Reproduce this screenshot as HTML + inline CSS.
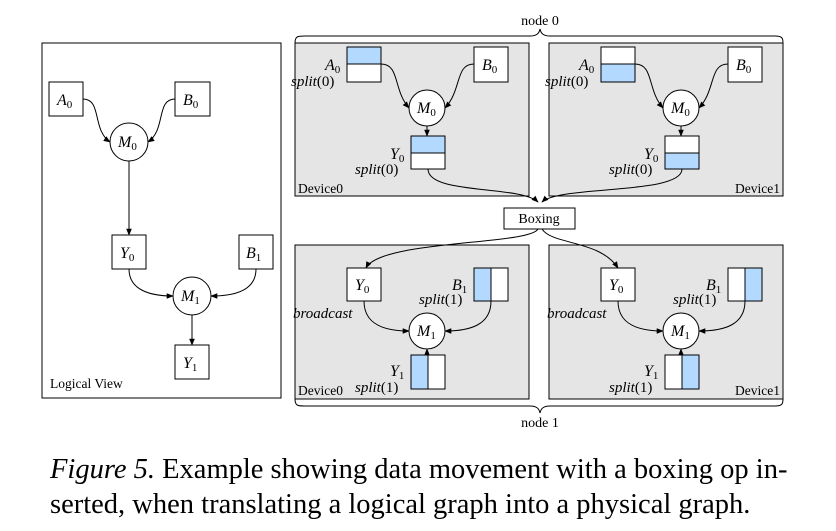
<!DOCTYPE html>
<html><head><meta charset="utf-8"><style>
html,body{margin:0;padding:0;background:#fff;width:836px;height:531px;overflow:hidden}
svg text{font-family:"Liberation Serif",serif}
.cap{position:absolute;left:50px;top:452px;font-family:"Liberation Serif",serif;font-size:28.5px;line-height:35px;color:#000;width:800px;white-space:nowrap}
</style></head><body>
<svg width="836" height="531" viewBox="0 0 836 531" xmlns="http://www.w3.org/2000/svg" style="position:absolute;left:0;top:0">
<defs>
<marker id="ar" viewBox="0 0 10 10" refX="9" refY="5" markerWidth="7" markerHeight="7" orient="auto" markerUnits="userSpaceOnUse"><path d="M0,1 L10,5 L0,9 z" fill="#000"/></marker>
<g id="top">
<rect x="295" y="43" width="234" height="153" fill="#e5e5e5" stroke="#000" stroke-width="1"/>
<circle cx="427" cy="108" r="18" fill="#fff" stroke="#000"/>
<text x="417" y="113" font-size="16" font-style="italic">M<tspan font-size="11" dy="3" font-style="normal">0</tspan></text>
<rect x="474" y="47" width="34" height="35" fill="#fff" stroke="#000"/>
<text x="482" y="70" font-size="16" font-style="italic">B<tspan font-size="11" dy="3" font-style="normal">0</tspan></text>
<path d="M474,64 C455,64 462,90 445,108" fill="none" stroke="#000" marker-end="url(#ar)"/>
<path d="M381,64 C400,64 393,90 409,108" fill="none" stroke="#000" marker-end="url(#ar)"/>
<path d="M427,126 L427,136" fill="none" stroke="#000" marker-end="url(#ar)"/>
</g>
<g id="bot">
<rect x="295" y="245" width="234" height="154" fill="#e5e5e5" stroke="#000" stroke-width="1"/>
<circle cx="427" cy="331" r="18" fill="#fff" stroke="#000"/>
<text x="417" y="336" font-size="16" font-style="italic">M<tspan font-size="11" dy="3" font-style="normal">1</tspan></text>
<rect x="347" y="268" width="34" height="33" fill="#fff" stroke="#000"/>
<text x="355" y="290" font-size="16" font-style="italic">Y<tspan font-size="11" dy="3" font-style="normal">0</tspan></text>
<text x="293" y="318" font-size="15" font-style="italic">broadcast</text>
<path d="M364,301 C364,325 385,331 409,331" fill="none" stroke="#000" marker-end="url(#ar)"/>
<path d="M491,301 C491,325 470,331 445,331" fill="none" stroke="#000" marker-end="url(#ar)"/>
<path d="M427,355 L427,349" fill="none" stroke="#000" marker-end="url(#ar)"/>
<text x="452" y="290" font-size="16" font-style="italic">B<tspan font-size="11" dy="3" font-style="normal">1</tspan></text>
<text x="419" y="304" font-size="15"><tspan font-style="italic">split</tspan>(1)</text>
<text x="390" y="376" font-size="16" font-style="italic">Y<tspan font-size="11" dy="3" font-style="normal">1</tspan></text>
<text x="355" y="392" font-size="15"><tspan font-style="italic">split</tspan>(1)</text>
</g>
</defs>

<!-- Logical view -->
<rect x="42" y="43" width="239" height="355" fill="#fff" stroke="#000"/>
<rect x="49" y="82" width="34" height="34" fill="#fff" stroke="#000"/>
<text x="57" y="105" font-size="16" font-style="italic">A<tspan font-size="11" dy="3" font-style="normal">0</tspan></text>
<rect x="175" y="82" width="35" height="34" fill="#fff" stroke="#000"/>
<text x="183" y="105" font-size="16" font-style="italic">B<tspan font-size="11" dy="3" font-style="normal">0</tspan></text>
<circle cx="129" cy="142" r="19" fill="#fff" stroke="#000"/>
<text x="118" y="147" font-size="16" font-style="italic">M<tspan font-size="11" dy="3" font-style="normal">0</tspan></text>
<path d="M83,99 C102,99 92,130 110,142" fill="none" stroke="#000" marker-end="url(#ar)"/>
<path d="M175,99 C156,99 166,130 148,142" fill="none" stroke="#000" marker-end="url(#ar)"/>
<path d="M129,161 L129,235" fill="none" stroke="#000" marker-end="url(#ar)"/>
<rect x="112" y="235" width="34" height="34" fill="#fff" stroke="#000"/>
<text x="120" y="258" font-size="16" font-style="italic">Y<tspan font-size="11" dy="3" font-style="normal">0</tspan></text>
<rect x="239" y="235" width="34" height="34" fill="#fff" stroke="#000"/>
<text x="246" y="258" font-size="16" font-style="italic">B<tspan font-size="11" dy="3" font-style="normal">1</tspan></text>
<circle cx="192" cy="296" r="19" fill="#fff" stroke="#000"/>
<text x="181" y="301" font-size="16" font-style="italic">M<tspan font-size="11" dy="3" font-style="normal">1</tspan></text>
<path d="M129,269 C129,290 150,296 173,296" fill="none" stroke="#000" marker-end="url(#ar)"/>
<path d="M256,269 C256,290 235,296 211,296" fill="none" stroke="#000" marker-end="url(#ar)"/>
<path d="M192,315 L192,345" fill="none" stroke="#000" marker-end="url(#ar)"/>
<rect x="175" y="345" width="34" height="34" fill="#fff" stroke="#000"/>
<text x="183" y="368" font-size="16" font-style="italic">Y<tspan font-size="11" dy="3" font-style="normal">1</tspan></text>
<text x="50" y="388" font-size="13.5">Logical View</text>

<!-- braces -->
<path d="M295,43 C295,36 298,36 305,36 L530,36 C536,36 539,34 540,29 C541,34 544,36 550,36 L775,36 C782,36 783,38 783,43" fill="none" stroke="#000"/>
<text x="540" y="25" font-size="14" text-anchor="middle">node 0</text>
<path d="M295,399 C295,406 298,406 305,406 L530,406 C536,406 539,408 540,413 C541,408 544,406 550,406 L775,406 C782,406 783,404 783,399" fill="none" stroke="#000"/>
<text x="540" y="427" font-size="14" text-anchor="middle">node 1</text>

<!-- top panels -->
<use href="#top"/>
<rect x="347" y="47" width="34" height="17" fill="#b3d9ff" stroke="#000"/>
<rect x="347" y="64" width="34" height="18" fill="#fff" stroke="#000"/>
<text x="325" y="70" font-size="16" font-style="italic">A<tspan font-size="11" dy="3" font-style="normal">0</tspan></text>
<text x="291" y="86" font-size="15"><tspan font-style="italic">split</tspan>(0)</text>
<rect x="411" y="136" width="34" height="17" fill="#b3d9ff" stroke="#000"/>
<rect x="411" y="153" width="34" height="16" fill="#fff" stroke="#000"/>
<text x="390" y="159" font-size="16" font-style="italic">Y<tspan font-size="11" dy="3" font-style="normal">0</tspan></text>
<text x="355" y="174" font-size="15"><tspan font-style="italic">split</tspan>(0)</text>
<text x="298" y="193" font-size="13.5">Device0</text>

<g transform="translate(254,0)"><use href="#top"/></g>
<rect x="601" y="47" width="34" height="17" fill="#fff" stroke="#000"/>
<rect x="601" y="64" width="34" height="18" fill="#b3d9ff" stroke="#000"/>
<text x="579" y="70" font-size="16" font-style="italic">A<tspan font-size="11" dy="3" font-style="normal">0</tspan></text>
<text x="545" y="86" font-size="15"><tspan font-style="italic">split</tspan>(0)</text>
<rect x="665" y="136" width="34" height="17" fill="#fff" stroke="#000"/>
<rect x="665" y="153" width="34" height="16" fill="#b3d9ff" stroke="#000"/>
<text x="644" y="159" font-size="16" font-style="italic">Y<tspan font-size="11" dy="3" font-style="normal">0</tspan></text>
<text x="609" y="174" font-size="15"><tspan font-style="italic">split</tspan>(0)</text>
<text x="780" y="193" font-size="13.5" text-anchor="end">Device1</text>

<!-- bottom panels -->
<use href="#bot"/>
<rect x="474" y="268" width="17" height="33" fill="#b3d9ff" stroke="#000"/>
<rect x="491" y="268" width="17" height="33" fill="#fff" stroke="#000"/>
<rect x="411" y="355" width="17" height="34" fill="#b3d9ff" stroke="#000"/>
<rect x="428" y="355" width="17" height="34" fill="#fff" stroke="#000"/>
<text x="298" y="395" font-size="13.5">Device0</text>

<g transform="translate(254,0)"><use href="#bot"/></g>
<rect x="728" y="268" width="17" height="33" fill="#fff" stroke="#000"/>
<rect x="745" y="268" width="17" height="33" fill="#b3d9ff" stroke="#000"/>
<rect x="665" y="355" width="17" height="34" fill="#fff" stroke="#000"/>
<rect x="682" y="355" width="17" height="34" fill="#b3d9ff" stroke="#000"/>
<text x="780" y="395" font-size="13.5" text-anchor="end">Device1</text>

<!-- boxing connections -->
<path d="M428,169 C428,195 520,185 538,202" fill="none" stroke="#000" marker-end="url(#ar)"/>
<path d="M682,169 C682,195 560,185 542,202" fill="none" stroke="#000" marker-end="url(#ar)"/>
<rect x="504" y="208" width="71" height="21" fill="#fff" stroke="#000"/>
<text x="539" y="223" font-size="14" text-anchor="middle">Boxing</text>
<path d="M538,229 C530,245 380,240 366,268" fill="none" stroke="#000" marker-end="url(#ar)"/>
<path d="M542,229 C552,245 600,240 618,268" fill="none" stroke="#000" marker-end="url(#ar)"/>
</svg>
<div class="cap"><i>Figure 5.</i> Example showing data movement with a boxing op in-<br>serted, when translating a logical graph into a physical graph.</div>
</body></html>
